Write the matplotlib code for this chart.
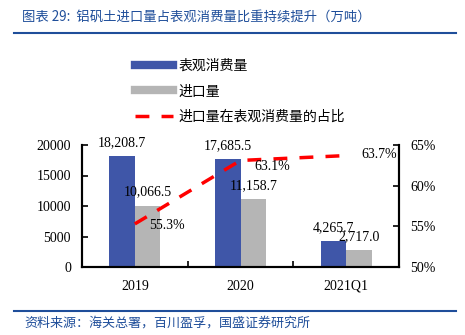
import matplotlib
matplotlib.use("Agg")
import matplotlib.pyplot as plt
from matplotlib.lines import Line2D
import numpy as np

categories = ["2019", "2020", "2021Q1"]
consumption = [18208.7, 17685.5, 4265.7]
imports = [10066.5, 11158.7, 2717.0]
share = [55.3, 63.1, 63.7]
left_ticks = [0, 5000, 10000, 15000, 20000]
right_ticks = [50, 55, 60, 65]

plt.rcParams['font.family'] = ['Liberation Serif', 'Noto Sans CJK SC']
BLUE = '#3F56A8'
GRAY = '#B5B5B5'
RED = '#FF0000'
TXT_BLUE = '#1F4E9A'

fig = plt.figure(figsize=(4.65, 3.35), dpi=100)
ax = fig.add_axes([82/465, 1-267/335, (399-82)/465, (267-145)/335])
ax2 = ax.twinx()

x = np.arange(len(categories))
w = 0.24
ax.bar(x - w/2, consumption, w, color=BLUE, zorder=2)
ax.bar(x + w/2, imports, w, color=GRAY, zorder=2)
ax.set_ylim(0, 20000)
ax.set_xlim(-0.5, 2.5)
ax.set_yticks(left_ticks)
ax.set_yticklabels([str(v) for v in left_ticks], fontsize=10)
ax.set_xticks(x)
ax.set_xticklabels(categories, fontsize=10)
ax.set_xticks([0.5, 1.5], minor=True)
ax.tick_params(axis='x', which='major', length=0, pad=9)
ax.tick_params(axis='x', which='minor', length=4, direction='in', width=1.2)
ax.tick_params(axis='y', length=4, direction='in', width=1.2, pad=8)
for s in ['top']:
    ax.spines[s].set_visible(False)
    ax2.spines[s].set_visible(False)
for s in ['left', 'bottom', 'right']:
    ax2.spines[s].set_linewidth(1.5)
    ax.spines[s].set_linewidth(1.5)

ax2.plot(x, share, color=RED, lw=2.5, dashes=(4, 3.5), zorder=3)
ax2.set_ylim(50, 65)
ax2.set_yticks(right_ticks)
ax2.set_yticklabels([f"{v}%" for v in right_ticks], fontsize=10)
ax2.tick_params(axis='y', length=4, direction='in', width=1.2, pad=8)

for xi, v in zip(x, consumption):
    ax.annotate(f"{v:,.1f}", (xi - w/2, v), xytext=(0, 5), textcoords='offset points',
                ha='center', va='bottom', fontsize=10)
for xi, v in zip(x, imports):
    ax.annotate(f"{v:,.1f}", (xi + w/2, v), xytext=(0, 5), textcoords='offset points',
                ha='center', va='bottom', fontsize=10)
offs = [(23, -1), (23, -4), (24, 1)]
for xi, v, o in zip(x, share, offs):
    ax2.annotate(f"{v}%", (xi, v), xytext=o, textcoords='offset points',
                 ha='center', va='center', fontsize=10)

handles = [Line2D([], [], color=BLUE, lw=6),
           Line2D([], [], color=GRAY, lw=6),
           Line2D([], [], color=RED, lw=2.5, dashes=(4, 3.5))]
labels = ["表观消费量", "进口量", "进口量在表观消费量的占比"]
fig.legend(handles, labels, loc='upper left', bbox_to_anchor=(122/465, 1-46/335),
           frameon=False, handlelength=2.75, labelspacing=0.85,
           handletextpad=0.45, prop={'family': ['Noto Sans CJK SC'], 'size': 10})

fig.text(22/465, 1-17/335, "图表 29:  铝矾土进口量占表观消费量比重持续提升（万吨）",
         color=TXT_BLUE, fontsize=9.6, style='italic', va='center', ha='left',
         family=['Noto Sans CJK SC', 'DejaVu Sans'])
fig.add_artist(Line2D([14/465, 456/465], [1-33/335, 1-33/335], color=TXT_BLUE, lw=1.5,
                      transform=fig.transFigure))
fig.add_artist(Line2D([14/465, 456/465], [1-311/335, 1-311/335], color=TXT_BLUE, lw=1.5,
                      transform=fig.transFigure))
fig.text(24/465, 1-323/335, "资料来源：海关总署，百川盈孚，国盛证券研究所",
         color=TXT_BLUE, fontsize=9.4, style='italic', va='center', ha='left',
         family=['Noto Sans CJK SC', 'DejaVu Sans'])

fig.savefig("out.png", dpi=100)
